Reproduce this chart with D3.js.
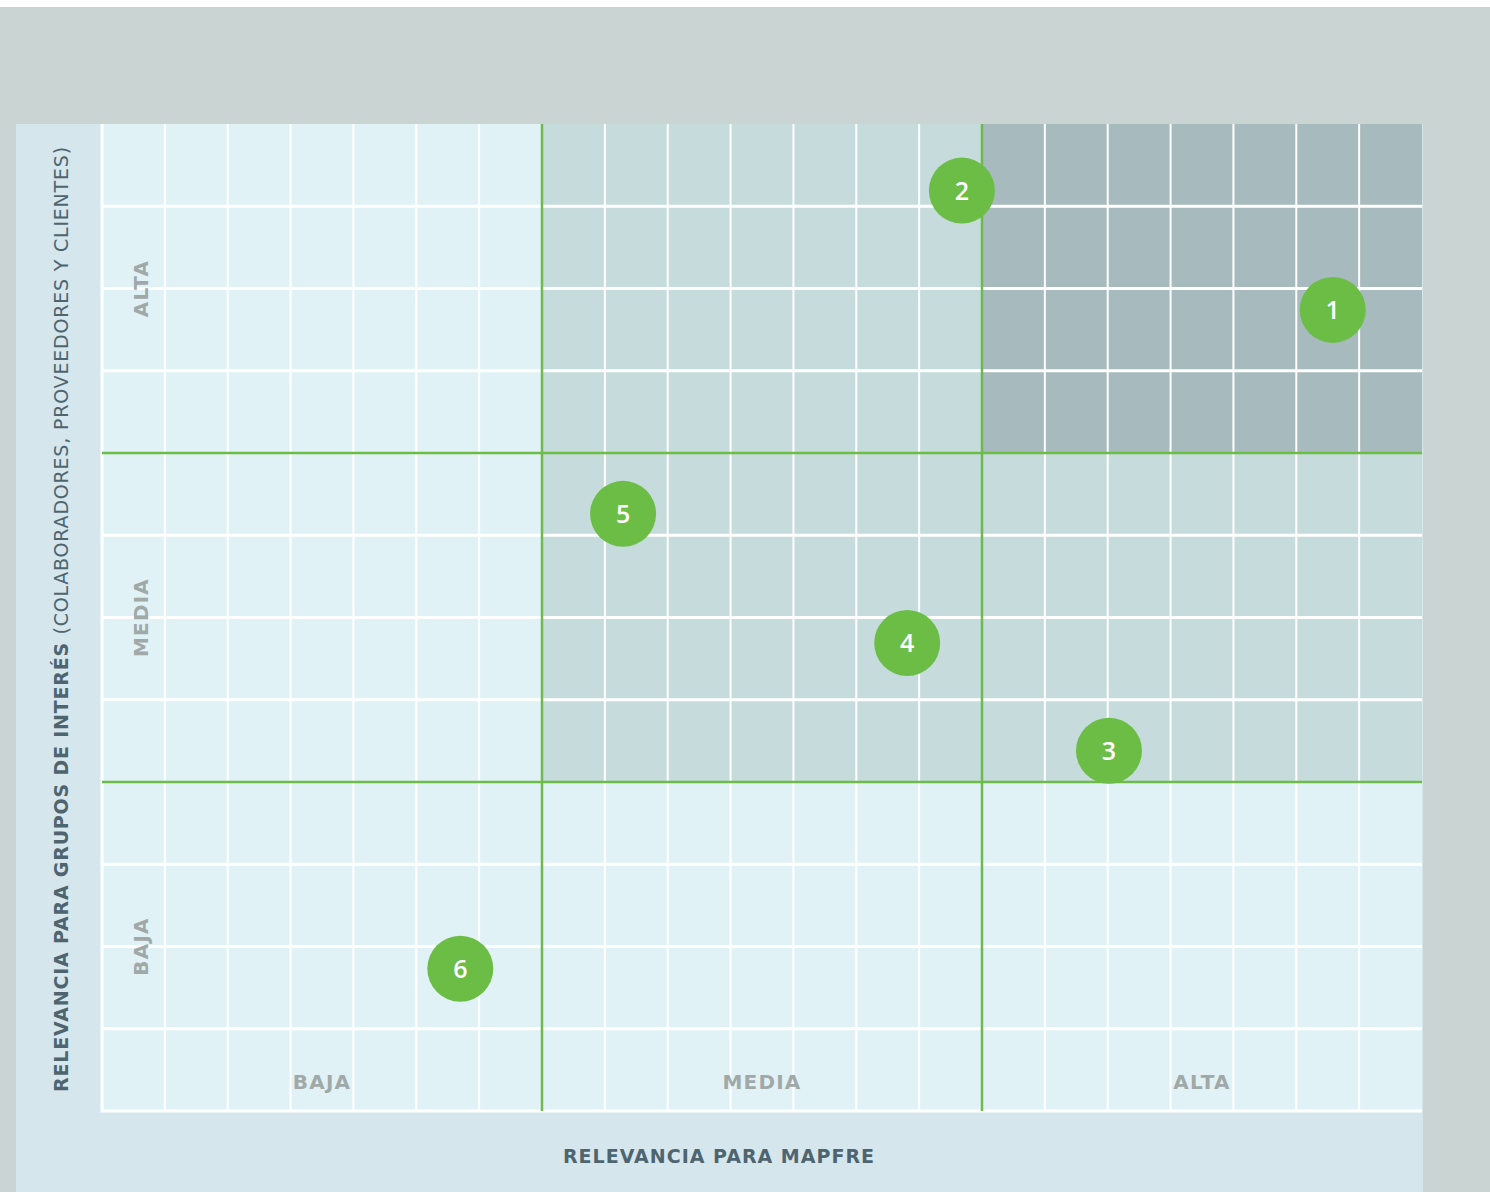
<!DOCTYPE html>
<html>
<head>
<meta charset="utf-8">
<script src="https://cdn.jsdelivr.net/npm/d3@7"></script>
<style>
  html, body { margin: 0; padding: 0; background: #fff; }
  svg { display: block; }
</style>
</head>
<body>
<div id="chart"></div>
<script>
// Materiality matrix: relevance for MAPFRE vs relevance for stakeholders

const levels = ["BAJA", "MEDIA", "ALTA"];
const colsPerLevel = 7;
const rowsPerLevel = 4;

// points in grid units (x: 0..21 columns, y: 0..12 rows from bottom)
const pointIds = ["1", "2", "3", "4", "5", "6"];
const pointX = [19.58, 13.68, 16.02, 12.81, 8.29, 5.70];
const pointY = [9.74, 11.19, 4.38, 5.69, 7.26, 1.73];

// shade of each zone cell [xLevel][yLevel]
const zoneShade = [
    ["light", "light", "light"],
    ["light", "mid", "mid"],
    ["light", "mid", "dark"]
];

const width = 1490;
const height = 1192;
const shadeColors = { light: "#e0f2f6", mid: "#c5dbdc", dark: "#a7babd" };
const green = "#6cbd45";

const svg = d3.select("#chart")
    .append("svg")
    .attr("width", width)
    .attr("height", height);

// background
svg.append("rect")
    .attr("x", 0).attr("y", 7)
    .attr("width", width).attr("height", height - 7)
    .attr("fill", "#cad4d3");

svg.append("rect")
    .attr("x", 16).attr("y", 124)
    .attr("width", 1407).attr("height", height - 124)
    .attr("fill", "#d5e6ec");

const nCols = levels.length * colsPerLevel;
const nRows = levels.length * rowsPerLevel;

const x = d3.scaleLinear().domain([0, nCols]).range([102, 1422]);
const y = d3.scaleLinear().domain([0, nRows]).range([1111, 124]);

const g = svg.append("g");

// zone backgrounds
const zones = [];
levels.forEach((lx, i) => levels.forEach((ly, j) => zones.push({ i, j, shade: zoneShade[i][j] })));

g.selectAll("rect.zone")
    .data(zones)
    .join("rect")
    .attr("class", "zone")
    .attr("x", d => x(d.i * colsPerLevel))
    .attr("y", d => y((d.j + 1) * rowsPerLevel))
    .attr("width", d => x((d.i + 1) * colsPerLevel) - x(d.i * colsPerLevel))
    .attr("height", d => y(d.j * rowsPerLevel) - y((d.j + 1) * rowsPerLevel))
    .attr("fill", d => shadeColors[d.shade]);

// white grid lines
const colLines = d3.range(1, nCols).filter(c => c % colsPerLevel !== 0);
const rowLines = d3.range(1, nRows).filter(r => r % rowsPerLevel !== 0);

g.selectAll("line.vgrid")
    .data(colLines)
    .join("line")
    .attr("x1", d => x(d)).attr("x2", d => x(d))
    .attr("y1", y(nRows)).attr("y2", y(0))
    .attr("stroke", "#fff")
    .attr("stroke-width", 2);

g.selectAll("line.hgrid")
    .data(rowLines)
    .join("line")
    .attr("x1", x(0)).attr("x2", x(nCols))
    .attr("y1", d => y(d)).attr("y2", d => y(d))
    .attr("stroke", "#fff")
    .attr("stroke-width", 3);

// white axis border (left and bottom)
g.append("path")
    .attr("d", `M${x(0)},${y(nRows)}V${y(0)}H${x(nCols)}`)
    .attr("fill", "none")
    .attr("stroke", "#fff")
    .attr("stroke-width", 3);

// green zone dividers
const dividers = d3.range(1, levels.length);
g.selectAll("line.vdiv")
    .data(dividers)
    .join("line")
    .attr("x1", d => x(d * colsPerLevel)).attr("x2", d => x(d * colsPerLevel))
    .attr("y1", y(nRows)).attr("y2", y(0))
    .attr("stroke", green)
    .attr("stroke-width", 2.5);

g.selectAll("line.hdiv")
    .data(dividers)
    .join("line")
    .attr("x1", x(0)).attr("x2", x(nCols))
    .attr("y1", d => y(d * rowsPerLevel)).attr("y2", d => y(d * rowsPerLevel))
    .attr("stroke", green)
    .attr("stroke-width", 2.5);

// zone labels
const labelFont = "'DejaVu Sans', 'Open Sans', sans-serif";

g.selectAll("text.xlab")
    .data(levels)
    .join("text")
    .attr("x", (d, i) => x((i + 0.5) * colsPerLevel))
    .attr("y", 1089)
    .attr("text-anchor", "middle")
    .attr("font-family", labelFont)
    .attr("font-weight", 700)
    .attr("font-size", 20)
    .attr("letter-spacing", 1.2)
    .attr("fill", "#a0a9a8")
    .text(d => d);

g.selectAll("text.ylab")
    .data(levels)
    .join("text")
    .attr("transform", (d, i) => `translate(148,${y((i + 0.5) * rowsPerLevel)}) rotate(-90)`)
    .attr("text-anchor", "middle")
    .attr("font-family", labelFont)
    .attr("font-weight", 700)
    .attr("font-size", 20)
    .attr("letter-spacing", 1.2)
    .attr("fill", "#a0a9a8")
    .text(d => d);

// axis titles
svg.append("text")
    .attr("x", 719)
    .attr("y", 1163)
    .attr("text-anchor", "middle")
    .attr("font-family", labelFont)
    .attr("font-weight", 700)
    .attr("font-size", 19)
    .attr("letter-spacing", 1)
    .attr("fill", "#4e6570")
    .text("RELEVANCIA PARA MAPFRE");

const yTitle = svg.append("text")
    .attr("transform", `translate(68,${(145 + 1093) / 2}) rotate(-90)`)
    .attr("text-anchor", "middle")
    .attr("font-family", labelFont)
    .attr("font-size", 19)
    .attr("letter-spacing", 0.8)
    .attr("fill", "#4e6570");
yTitle.append("tspan").attr("font-weight", 700).text("RELEVANCIA PARA GRUPOS DE INTERÉS ");
yTitle.append("tspan").attr("font-weight", 400).text("(COLABORADORES, PROVEEDORES Y CLIENTES)");

// points
const points = pointIds.map((id, i) => ({ id, x: pointX[i], y: pointY[i] }));

const pt = g.selectAll("g.point")
    .data(points)
    .join("g")
    .attr("class", "point")
    .attr("transform", d => `translate(${x(d.x)},${y(d.y)})`);

pt.append("circle")
    .attr("r", 33)
    .attr("fill", green);

pt.append("text")
    .attr("text-anchor", "middle")
    .attr("dy", "0.36em")
    .attr("font-family", "'Open Sans', sans-serif")
    .attr("font-weight", 600)
    .attr("font-size", 25)
    .attr("fill", "#fff")
    .text(d => d.id);
</script>
</body>
</html>
